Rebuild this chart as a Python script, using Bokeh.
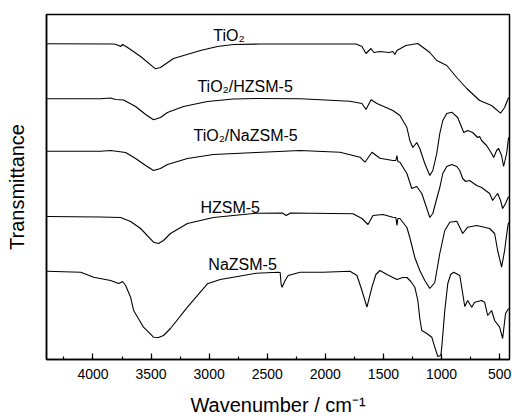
from bokeh.plotting import figure
from bokeh.models import Range1d, SingleIntervalTicker, FixedTicker, ColumnDataSource
from bokeh.core.properties import value
from bokeh.embed import file_html
from bokeh.resources import INLINE

# ---- data (wavenumber in cm^-1, transmittance in arbitrary units) ----
wn_tio2 = [4400, 3822, 3788, 3762, 3745, 3702, 3590, 3462, 3419, 3307, 3075, 2929, 2792, 2560,
           1736, 1685, 1650, 1607, 1582, 1530, 1453, 1419, 1401, 1384, 1307, 1204, 1101, 1041,
           955, 869, 783, 672, 569, 492, 457, 423]
t_tio2 = [315.7, 315.5, 314.5, 313, 315, 312, 303, 290.7, 292, 301, 309, 313, 315, 315.5,
          315.5, 313, 306, 311, 307, 308, 307, 308, 305, 309, 314, 316, 307, 299,
          294, 282, 271, 259, 254, 246.3, 252, 262]

wn_tio2_h = [4400, 3934, 3848, 3805, 3736, 3633, 3547, 3479, 3419, 3359, 3221, 3015, 2792, 2595,
             2217, 1788, 1685, 1650, 1607, 1556, 1419, 1358, 1298, 1273, 1247, 1213, 1187, 1144,
             1101, 1075, 1041, 1015, 989, 955, 912, 861, 826, 809, 775, 732, 689, 672, 655, 612,
             569, 551, 526, 509, 483, 466, 440, 423]
t_tio2_h = [260.7, 260.7, 261.5, 260, 259.5, 253, 245, 239.7, 242, 247, 253, 258, 260.5, 261,
            260.7, 258.3, 256, 250, 259.7, 256, 249, 244, 232, 219, 212, 217, 211, 196,
            184, 189, 206, 226, 239, 246, 247.3, 242, 232, 227, 229, 227, 222, 223, 219, 214,
            206, 202, 209, 211, 204, 193, 206, 222]

wn_tio2_na = [4400, 3934, 3848, 3719, 3633, 3547, 3479, 3419, 3359, 3187, 2964, 2595, 2217, 1874,
              1702, 1659, 1599, 1530, 1419, 1393, 1384, 1376, 1358, 1298, 1256, 1213, 1170, 1135,
              1101, 1075, 1041, 1015, 989, 955, 912, 869, 843, 818, 792, 758, 697, 655, 586, 560,
              543, 517, 492, 474, 449, 423]
t_tio2_na = [208.3, 208.3, 209, 207, 201, 194, 189, 191, 195, 201, 205, 207, 209, 207.3,
             202.3, 197.3, 207.3, 201.3, 199, 199, 204, 198, 197.3, 186, 171, 173, 166, 154,
             142, 146, 161, 172, 186, 193, 195, 193, 189, 181, 178, 179, 174, 172, 166, 159,
             162, 166, 159, 151, 156, 163]

wn_hzsm = [4400, 3934, 3762, 3676, 3590, 3479, 3436, 3393, 3333, 3187, 2964, 2595, 2370, 2337,
           2300, 1762, 1685, 1633, 1590, 1504, 1419, 1393, 1384, 1376, 1358, 1298, 1273, 1230,
           1187, 1144, 1101, 1058, 1015, 972, 929, 869, 843, 818, 775, 697, 586, 543, 517, 483,
           457, 431, 423]
t_hzsm = [143, 142.5, 142, 138, 131, 117.3, 116, 119, 126, 136, 142, 146.3, 146.5, 144,
          146.5, 145.7, 141, 135, 144, 145, 142.3, 142, 134, 141, 141, 132, 122, 102,
          89, 79, 71, 77, 106, 129, 137.3, 138.3, 132.3, 126, 132.3, 134, 131, 126, 109, 92.3,
          109, 132.3, 137]

wn_nazsm = [4400, 4105, 3994, 3848, 3779, 3745, 3719, 3676, 3650, 3565, 3479, 3436, 3393, 3333,
            3187, 3015, 2904, 2792, 2595, 2406, 2389, 2380, 2372, 2346, 2320, 2217, 2020, 1788,
            1728, 1685, 1642, 1599, 1565, 1530, 1470, 1384, 1333, 1298, 1264, 1230, 1204, 1187,
            1170, 1127, 1084, 1058, 1032, 1006, 998, 972, 946, 921, 895, 843, 818, 800, 775, 740,
            715, 655, 629, 603, 569, 543, 500, 474, 449, 423]
t_nazsm = [88.3, 87.3, 82.3, 79, 76, 78, 74, 62.3, 49, 32.3, 22.3, 22, 24, 31,
           52.3, 75.7, 80, 82.3, 86.3, 87.3, 87, 75, 72.3, 79, 84, 87.3, 87.3, 88.3,
           84, 69, 52.3, 72.3, 85, 89, 85, 80, 82, 82, 78, 72.3, 59, 41,
           29, 26, 22.3, 12.3, 3, 4, 12.3, 49, 76, 85, 87.3, 84, 66, 53, 59, 52.3,
           57.3, 59, 57.3, 44, 49, 39, 32.3, 21, 46, 51]

label_text = ["TiO\u2082", "TiO\u2082/HZSM-5", "TiO\u2082/NaZSM-5", "HZSM-5", "NaZSM-5"]
label_wn = [2964, 3101, 3135, 3075, 3007]
label_t = [324, 273, 224, 152, 95]

x_ticks_interval = 500
x_title = "Wavenumber / cm\u207b\u00b9"
y_title = "Transmittance"

FONT = "Liberation Sans"

p = figure(width=512, height=419, output_backend="svg", toolbar_location=None,
           x_range=Range1d(4400, 415), y_range=Range1d(0, 345),
           min_border_left=46, min_border_right=3, min_border_top=14, min_border_bottom=60,
           background_fill_color="white", border_fill_color="white")

for wn, t in [(wn_tio2, t_tio2), (wn_tio2_h, t_tio2_h), (wn_tio2_na, t_tio2_na),
              (wn_hzsm, t_hzsm), (wn_nazsm, t_nazsm)]:
    p.line(wn, t, line_color="black", line_width=1.1)

src = ColumnDataSource(dict(x=label_wn, y=label_t, text=label_text))
p.text(x="x", y="y", text="text", source=src, text_font=value(FONT), text_font_size="16px",
       text_align="left", text_baseline="alphabetic", text_color="black")

p.grid.visible = False
p.outline_line_color = "black"
p.outline_line_width = 1.5

xa = p.xaxis[0]
xa.ticker = SingleIntervalTicker(interval=x_ticks_interval, num_minor_ticks=2)
xa.major_tick_in = 6
xa.major_tick_out = 0
xa.minor_tick_in = 3
xa.minor_tick_out = 0
xa.axis_line_width = 1.5
xa.major_tick_line_width = 1.2
xa.minor_tick_line_width = 1.2
xa.major_label_text_font = FONT
xa.major_label_text_font_size = "14px"
xa.major_label_text_color = "black"
xa.major_label_standoff = 9
xa.axis_label = x_title
xa.axis_label_text_font = FONT
xa.axis_label_text_font_size = "20px"
xa.axis_label_text_font_style = "normal"
xa.axis_label_standoff = 12
xa.axis_label_text_color = "black"

ya = p.yaxis[0]
ya.ticker = FixedTicker(ticks=[])
ya.major_tick_line_color = None
ya.minor_tick_line_color = None
ya.major_label_standoff = 0
ya.axis_line_width = 1.5
ya.axis_label = y_title
ya.axis_label_text_font = FONT
ya.axis_label_text_font_size = "20px"
ya.axis_label_text_font_style = "normal"
ya.axis_label_standoff = 19
ya.axis_label_text_color = "black"

open("out.html", "w").write(file_html(p, INLINE))
